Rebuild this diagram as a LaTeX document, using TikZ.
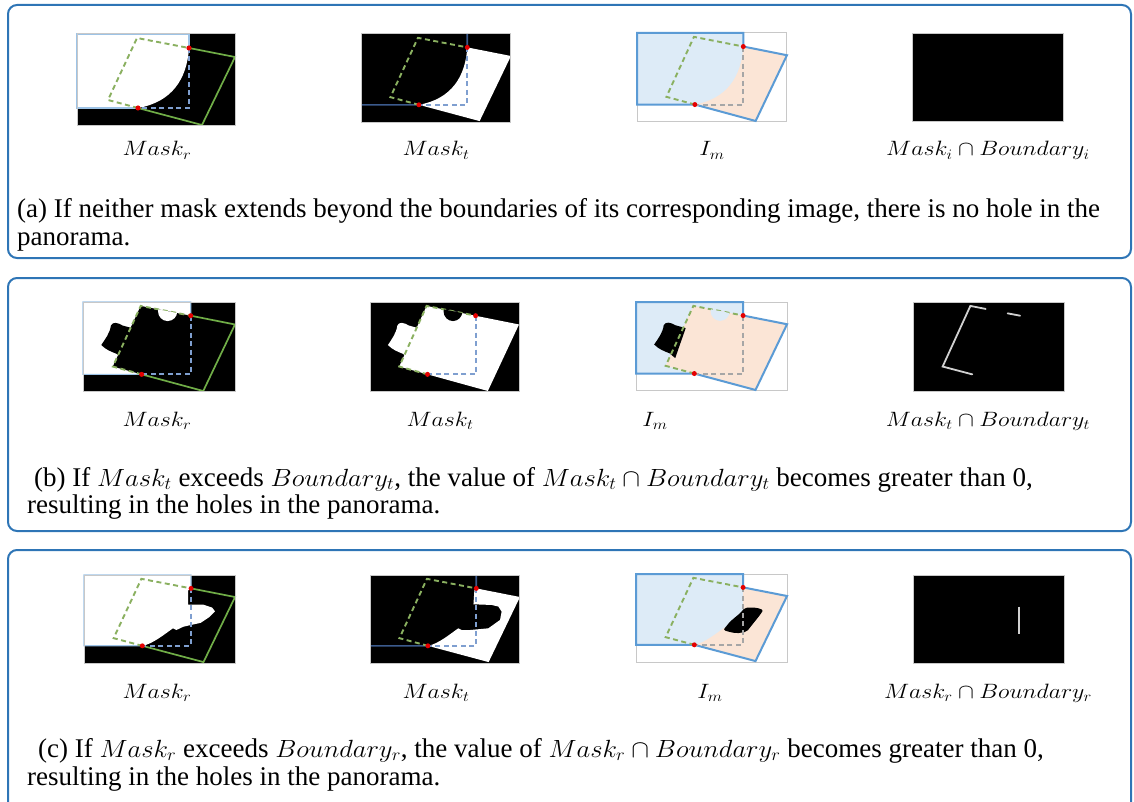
\documentclass[tikz,border=0pt]{standalone}
\usepackage{fontspec}
\usepackage{graphicx}
\setmainfont{Liberation Serif}

\definecolor{framebl}{HTML}{2E75B6}
\definecolor{tgreen}{HTML}{70AD47}
\definecolor{tgreendash}{HTML}{8AB060}
\definecolor{lbdash}{HTML}{7F9FD0}
\definecolor{refout}{HTML}{9DC3E6}
\definecolor{navyln}{HTML}{3B5A8C}
\definecolor{imblue}{HTML}{5B9BD5}
\definecolor{imfill}{HTML}{DDEBF7}
\definecolor{peach}{HTML}{FBE5D6}
\definecolor{imgedge}{HTML}{C8C8C8}
\definecolor{bndline}{HTML}{D0D0D0}

% wide math italic, as in the labels
\newcommand\mth[1]{\scalebox{1.15}[1]{$#1$}}
\newcommand\cmth[1]{{\fontsize{23}{27}\selectfont\scalebox{1.07}[1]{$#1$}}}

\tikzset{
  panel/.style={draw=framebl, line width=2pt, rounded corners=9pt},
  imgedgeln/.style={draw=imgedge, line width=1pt},
  gdash/.style={draw=tgreendash, line width=1.9pt, dash pattern=on 5pt off 3.5pt},
  gsolid/.style={draw=tgreen, line width=1.7pt},
  bdash/.style={draw=lbdash, line width=1.9pt, dash pattern=on 5pt off 3.5pt},
  graydash/.style={draw=black!35, line width=1.9pt, dash pattern=on 5pt off 3.5pt},
  refedge/.style={draw=refout, line width=1.2pt},
  navy/.style={draw=navyln, line width=1.6pt},
  imline/.style={draw=imblue, line width=2pt},
  bnd/.style={draw=bndline, line width=1.8pt},
  reddot/.style={fill=red!90!black},
  lbl/.style={font=\fontsize{20}{24}\selectfont, anchor=base},
  capt/.style={font=\fontsize{27}{31}\selectfont, anchor=base west, inner sep=0pt},
}

% Key points of one image, in a 158 x 92 frame (y grows downwards)
\newcommand\setpts{%
  \coordinate (P1) at (112,14);
  \coordinate (P2) at (61,74);
  \coordinate (TL) at (60,4);
  \coordinate (TR) at (158,23);
  \coordinate (BR) at (125,91);
  \coordinate (BL) at (31,66);
  \coordinate (RC) at (112,74);
}
\newcommand\reddots{%
  \fill[reddot] (P1) circle (2.6pt);
  \fill[reddot] (P2) circle (2.6pt);
}
\newcommand\targetlines{%
  \draw[gdash] (P2) -- (BL) -- (TL) -- (P1);
}
\newcommand\imborder{\draw[imgedgeln] (0,0) rectangle (158,92);}
% half-disc notch on the upper edge of the target image
\newcommand\notch[1]{%
  \begin{scope}
    \clip (TL) -- (TR) -- (BR) -- (BL) -- cycle;
    \fill[#1] (88,9.5) circle (10);
  \end{scope}}
% blob that sticks out of the left edge of the target image
\newcommand\blobpath{(52,27) -- (41,24) .. controls (36,21) and (31,20) .. (29,24)
  .. controls (28,32) and (23,38) .. (19,44) .. controls (24,49) and (30,51) .. (35,53)
  -- (41,58) -- cycle}
% curved seam of row (c), from P2 up to the notch
\newcommand\seamc{(P2) .. controls (72,72) and (84,62) .. (93,55.7)}

\begin{document}
\begin{tikzpicture}[x=1pt,y=-1pt]
\useasboundingbox (0,0) rectangle (1134,802);
\clip (0,0) rectangle (1134,802);

% ---------- panels ----------
\draw[panel] (8,5) rectangle (1131,258);
\draw[panel] (8,278) rectangle (1131,531);
\draw[panel] (8,550) rectangle (1131,830);

% ================= row (a) =================
\begin{scope}[shift={(77,34)}]
  \setpts
  \fill[black] (0,0) rectangle (158,92);
  \fill[white] (0,0) -- (112,0) -- (P1) .. controls (110,45) and (95,68) .. (P2) -- (0,74) -- cycle;
  \draw[refedge] (P1) -- (112,0) -- (0,0) -- (0,74) -- (P2);
  \targetlines
  \draw[gsolid] (P1) -- (TR) -- (BR) -- (P2);
  \draw[bdash] (P1) -- (RC) -- (P2);
  \reddots \imborder
\end{scope}
\begin{scope}[shift={(361,34)}, xscale=0.949, yscale=0.957]
  \setpts
  \fill[black] (0,0) rectangle (158,92);
  \fill[white] (P1) -- (TR) -- (BR) -- (P2) .. controls (95,68) and (110,45) .. (P1);
  \draw[navy] (112,0) -- (P1) (0,74) -- (P2);
  \targetlines
  \draw[bdash] (P1) -- (RC) -- (P2);
  \reddots \imborder
\end{scope}
\begin{scope}[shift={(637,33)}, xscale=0.949, yscale=0.967]
  \setpts
  \fill[white] (0,0) rectangle (158,92);
  \fill[peach] (TL) -- (TR) -- (BR) -- (BL) -- cycle;
  \fill[imfill] (0,0) rectangle (RC);
  \fill[peach] (P1) .. controls (110,45) and (95,68) .. (P2) -- (RC) -- cycle;
  \imborder
  \draw[imline] (P1) -- (112,0) -- (0,0) -- (0,74) -- (P2);
  \draw[imline] (P1) -- (TR) -- (BR) -- (P2);
  \targetlines
  \draw[graydash] (P1) -- (RC) -- (P2);
  \reddots
\end{scope}
\begin{scope}[shift={(912,34)}, xscale=0.956, yscale=0.946]
  \fill[black] (0,0) rectangle (158,92);
  \imborder
\end{scope}

\node[lbl] (la1) at (157,156) {\mth{Mask_r}};
\node[lbl] (la2) at (436,156) {\mth{Mask_t}};
\node[lbl] (la3) at (712,156) {\mth{I_m}};
\node[lbl] (la4) at (988,156) {\mth{Mask_i\cap Boundary_i}};
\node[capt] (ca1) at (17,218) {(a) If neither mask extends beyond the boundaries of its corresponding image, there is no hole in the};
\node[capt] (ca2) at (17,245) {panorama.};

% ================= row (b) =================
\begin{scope}[shift={(83,302)}, xscale=0.962, yscale=0.978]
  \setpts
  \fill[black] (0,0) rectangle (158,92);
  \fill[white] (0,0) rectangle (RC);
  \fill[black] (TL) -- (TR) -- (BR) -- (BL) -- cycle;
  \fill[black] \blobpath;
  \draw[refedge] (P1) -- (112,0) -- (0,0) -- (0,74) -- (P2);
  \targetlines
  \notch{white}
  \draw[gsolid] (P1) -- (TR) -- (BR) -- (P2);
  \draw[bdash] (P1) -- (RC) -- (P2);
  \reddots \imborder
\end{scope}
\begin{scope}[shift={(370,302)}, xscale=0.943, yscale=0.978]
  \setpts
  \fill[black] (0,0) rectangle (158,92);
  \fill[white] (TL) -- (TR) -- (BR) -- (BL) -- cycle;
  \fill[white] \blobpath;
  \targetlines
  \notch{black}
  \draw[bdash] (P1) -- (RC) -- (P2);
  \reddots \imborder
\end{scope}
\begin{scope}[shift={(636,302)}, xscale=0.956, yscale=0.967]
  \setpts
  \fill[white] (0,0) rectangle (158,92);
  \fill[imfill] (0,0) rectangle (RC);
  \fill[peach] (TL) -- (TR) -- (BR) -- (BL) -- cycle;
  \fill[black] \blobpath;
  \imborder
  \draw[imline] (P1) -- (112,0) -- (0,0) -- (0,74) -- (P2);
  \draw[imline] (P1) -- (TR) -- (BR) -- (P2);
  \targetlines
  \notch{imfill}
  \draw[graydash] (P1) -- (RC) -- (P2);
  \reddots
\end{scope}
\begin{scope}[shift={(913,302)}, xscale=0.956, yscale=0.978]
  \fill[black] (0,0) rectangle (158,92);
  \draw[bnd, line cap=round] (76,7.1) -- (60,4) -- (31,66) -- (62,74);
  \draw[bnd, line cap=round] (99,11.6) -- (112,14);
  \imborder
\end{scope}

\node[lbl] (lb1) at (157,426) {\mth{Mask_r}};
\node[lbl] (lb2) at (440,426) {\mth{Mask_t}};
\node[lbl] (lb3) at (655,426) {\mth{I_m}};
\node[lbl] (lb4) at (988,426) {\mth{Mask_t\cap Boundary_t}};
\node[capt] (cb1) at (34,486) {(b) If \cmth{Mask_t} exceeds \cmth{Boundary_t}, the value of \cmth{Mask_t\cap Boundary_t} becomes greater than 0,};
\node[capt] (cb2) at (27,513) {resulting in the holes in the panorama.};

% ================= row (c) =================
\begin{scope}[shift={(84,575)}, xscale=0.956, yscale=0.957]
  \setpts
  \fill[black] (0,0) rectangle (158,92);
  \fill[white] (0,0) -- (112,0) -- (P1) -- (109,16) -- (109,31) -- (125,31) -- (134,34)
     -- (137,38) -- (131,44) -- (122,50) -- (104,54) -- (96.6,57.5) -- (93,55.7)
     .. controls (84,62) and (72,72) .. (P2) -- (0,74) -- cycle;
  \draw[refedge] (P1) -- (112,0) -- (0,0) -- (0,74) -- (P2);
  \targetlines
  \draw[gsolid] (P1) -- (TR) -- (BR) -- (P2);
  \draw[bdash] (P1) -- (RC) -- (P2);
  \reddots \imborder
\end{scope}
\begin{scope}[shift={(370,575)}, xscale=0.949, yscale=0.957]
  \setpts
  \fill[black] (0,0) rectangle (158,92);
  \fill[white] (P1) -- (TR) -- (BR) -- \seamc -- (96.6,57.5) -- (105.4,57.5)
     -- (124.7,55.7) -- (137,47) -- (138.7,38.3) -- (135.3,33) -- (128.2,31.3)
     -- (109,30.6) -- (110,16) -- cycle;
  \draw[navy] (112,0) -- (P1) (0,74) -- (P2);
  \targetlines
  \draw[bdash] (P1) -- (RC) -- (P2);
  \reddots \imborder
\end{scope}
\begin{scope}[shift={(636,574)}, xscale=0.956, yscale=0.957]
  \setpts
  \fill[white] (0,0) rectangle (158,92);
  \fill[peach] (TL) -- (TR) -- (BR) -- (BL) -- cycle;
  \fill[imfill] (0,0) rectangle (RC);
  \fill[peach] \seamc -- (96.6,57.5) -- (105.4,57.5) -- (112,57) -- (RC) -- cycle;
  \fill[black, rounded corners=2pt] (91.3,58.5) -- (98.3,49.8) -- (108.8,41) -- (114,35.2)
     -- (126.2,35.2) -- (133.2,37.6) -- (129.7,42.8) -- (122.7,51.5) -- (115.8,60.3)
     -- (105.3,62) -- (96.6,60.3) -- cycle;
  \imborder
  \draw[imline] (P1) -- (112,0) -- (0,0) -- (0,74) -- (P2);
  \draw[imline] (P1) -- (TR) -- (BR) -- (P2);
  \targetlines
  \draw[graydash] (P1) -- (RC) -- (P2);
  \reddots
\end{scope}
\begin{scope}[shift={(913,575)}, xscale=0.956, yscale=0.957]
  \fill[black] (0,0) rectangle (158,92);
  \draw[bnd] (111,33) -- (111,62);
  \imborder
\end{scope}

\node[lbl] (lc1) at (157,698) {\mth{Mask_r}};
\node[lbl] (lc2) at (436,698) {\mth{Mask_t}};
\node[lbl] (lc3) at (710,698) {\mth{I_m}};
\node[lbl] (lc4) at (988,698) {\mth{Mask_r\cap Boundary_r}};
\node[capt] (cc1) at (38,757) {(c) If \cmth{Mask_r} exceeds \cmth{Boundary_r}, the value of \cmth{Mask_r\cap Boundary_r} becomes greater than 0,};
\node[capt] (cc2) at (27,785) {resulting in the holes in the panorama.};
\end{tikzpicture}
\end{document}
